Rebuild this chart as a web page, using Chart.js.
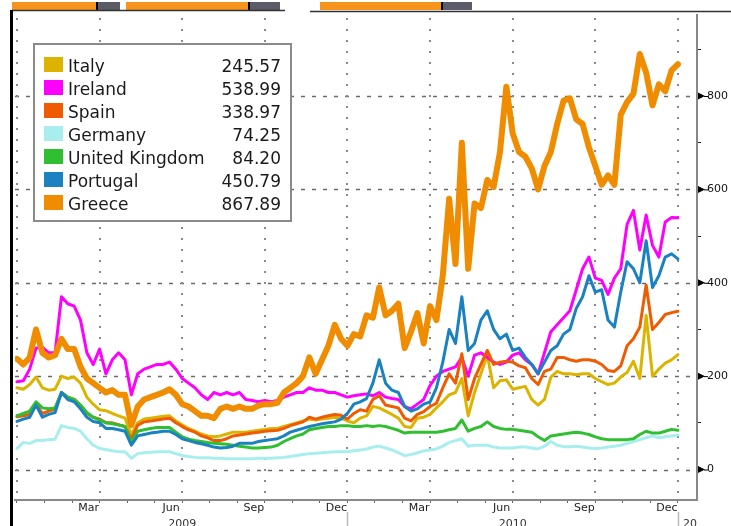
<!DOCTYPE html>
<html><head><meta charset="utf-8">
<script src="https://cdn.jsdelivr.net/npm/chart.js@4/dist/chart.umd.min.js"></script>
<style>html,body{margin:0;padding:0;background:#fff;}canvas{display:block}</style>
</head><body>
<canvas id="c" width="731" height="526"></canvas>
<script>
// ---- data (weekly readings, Jan 2009 .. Dec 2010) ----
const seriesNames = ['Italy','Ireland','Spain','Germany','United Kingdom','Portugal','Greece'];
const seriesColors = ['#dcb400','#ff00ff','#f05a00','#a8eeee','#30bf30','#1a82c0','#f08c00'];
const lastValues = ['245.57','538.99','338.97','74.25','84.20','450.79','867.89'];

const italy = [175,172,182,198,175,170,172,200,195,198,185,155,140,128,126,120,115,110,75,100,108,110,112,114,115,104,96,88,82,76,72,70,72,76,80,80,80,82,84,86,88,88,92,96,100,104,108,106,108,110,112,110,104,100,110,115,135,132,125,118,110,92,90,110,112,118,132,145,160,165,195,115,165,205,245,175,190,192,172,175,178,150,138,150,198,210,205,205,203,205,205,195,188,182,185,198,208,232,195,330,200,215,228,235,246];
const ireland = [188,190,215,260,262,250,250,370,355,350,320,250,225,258,205,235,250,235,160,205,215,220,225,225,230,215,195,185,175,160,150,165,160,165,160,165,150,148,145,148,145,148,155,160,165,165,175,170,170,165,165,160,155,158,160,162,158,165,155,152,150,135,130,140,150,180,200,210,215,220,240,200,245,250,240,230,225,230,245,250,235,225,205,250,295,310,325,340,385,430,455,410,405,375,410,430,525,555,470,545,480,455,530,540,539];
const spain = [113,115,118,140,120,125,130,165,155,150,138,120,112,108,100,100,96,92,65,95,102,104,106,108,110,100,92,85,80,72,68,62,62,66,72,74,76,78,80,82,83,84,88,94,98,102,112,108,112,115,118,116,108,120,128,125,150,158,138,135,132,110,104,118,124,135,142,175,205,185,248,150,195,225,255,225,230,232,230,222,218,195,182,210,215,240,240,235,232,235,235,232,225,212,210,222,265,280,305,395,300,315,332,336,339];
const germany = [45,58,56,62,62,64,65,94,90,88,82,66,52,45,43,40,38,38,24,34,36,37,38,38,38,34,30,28,26,25,25,24,24,23,23,23,23,23,24,24,24,25,26,28,30,32,34,35,36,37,38,38,38,40,42,44,48,50,46,42,36,30,32,36,40,42,44,50,58,62,66,50,52,52,52,48,46,46,46,48,48,46,44,50,60,52,49,49,50,48,46,45,46,48,50,52,56,60,64,68,72,68,70,72,74];
const unitedKingdom = [115,120,125,145,132,130,132,165,155,150,138,122,112,106,100,98,95,92,58,82,85,88,90,90,90,80,70,65,62,60,58,56,55,54,52,50,48,46,46,47,48,52,60,66,72,76,85,88,90,92,92,94,94,92,92,94,92,94,92,88,84,78,80,80,80,80,80,82,85,88,106,82,88,92,102,92,88,86,86,84,82,80,70,62,72,74,76,78,80,78,75,70,66,64,64,64,64,66,75,82,78,78,82,86,84];
const portugal = [103,108,112,138,112,118,122,165,150,145,130,112,103,100,88,88,85,82,52,72,75,78,80,82,82,75,66,62,58,55,52,48,46,47,50,56,56,56,60,62,64,66,72,80,84,88,92,95,98,100,102,108,120,140,145,152,185,235,185,170,165,135,125,130,140,145,175,230,300,270,370,255,270,320,340,300,280,290,255,260,240,225,205,230,255,265,290,300,345,370,415,380,385,320,305,380,445,430,400,490,390,415,455,462,451];
const greece = [237,225,240,300,250,240,245,280,258,258,220,195,185,175,165,170,160,160,95,135,150,155,160,165,172,160,140,135,125,115,115,110,130,135,130,135,130,130,137,140,140,143,165,175,185,200,240,205,235,265,310,280,265,290,285,330,325,390,330,340,355,260,295,335,270,350,320,415,580,440,700,430,570,560,620,605,680,820,720,680,670,645,600,650,680,740,790,795,750,740,690,650,610,630,610,760,787,805,890,850,780,825,810,855,868];

const monthTickLabels = ['','','','Mar','','','Jun','','','Sep','','','Dec','','','Mar','','','Jun','','','Sep','','','Dec'];
const yearLabels = ['2009','2010','2011'];
const yTickValues = [0,200,400,600,800];

// ---- derived structures ----
const seriesValues = [italy, ireland, spain, germany, unitedKingdom, portugal, greece];
const weekIndex = italy.map((_, i) => i);
const monthWeeks = monthTickLabels.map((_, m) => m * 104 / 24);
const quarterWeeks = monthWeeks.filter((_, m) => m % 3 === 0);

const datasets = seriesNames.map((name, k) => ({
  label: name,
  data: weekIndex.map(i => ({x: i, y: seriesValues[k][i]})),
  borderColor: seriesColors[k],
  backgroundColor: seriesColors[k],
  borderWidth: k === 6 ? 6 : 3,
  pointRadius: 0,
  pointHoverRadius: 0,
  tension: 0,
  fill: false,
  order: 6 - k,
  borderJoinStyle: 'round',
  borderCapStyle: 'round'
}));

const deco = {
  id: 'deco',
  beforeDatasetsDraw(chart) {
    const {ctx, chartArea: a, scales: {x, y}} = chart;
    ctx.save();
    ctx.strokeStyle = '#6a6a6a'; ctx.lineWidth = 1.6; ctx.setLineDash([4, 7]);
    yTickValues.forEach(v => {
      const py = Math.round(y.getPixelForValue(v)) + 0.5;
      ctx.beginPath(); ctx.moveTo(a.left, py); ctx.lineTo(a.right - 2, py); ctx.stroke();
    });
    ctx.strokeStyle = '#8a8a8a'; ctx.lineWidth = 2; ctx.setLineDash([2, 9]);
    quarterWeeks.forEach(w => {
      const px = Math.round(x.getPixelForValue(w));
      ctx.beginPath(); ctx.moveTo(px, a.top + 3); ctx.lineTo(px, a.bottom); ctx.stroke();
    });
    ctx.restore();
  },
  afterDatasetsDraw(chart) {
    const {ctx} = chart;
    ctx.save();
    ctx.fillStyle = '#fff';
    ctx.fillRect(33, 43, 259, 179);
    ctx.strokeStyle = '#8a8a8a'; ctx.lineWidth = 2;
    ctx.strokeRect(34, 44, 257, 177);
    ctx.font = '17px "DejaVu Sans"';
    ctx.textBaseline = 'alphabetic';
    seriesNames.forEach((name, i) => {
      const base = 72 + 23 * i;
      ctx.fillStyle = seriesColors[i];
      ctx.fillRect(44, base - 15, 19, 15);
      ctx.fillStyle = '#1a1a1a';
      ctx.textAlign = 'left';
      ctx.fillText(name, 68, base);
      ctx.textAlign = 'right';
      ctx.fillText(lastValues[i], 281, base);
    });
    ctx.restore();
  },
  afterDraw(chart) {
    const {ctx, chartArea: a, scales: {x, y}} = chart;
    ctx.save();
    // header tabs
    ctx.fillStyle = '#f7941d';
    [[12, 97], [126, 249], [320, 442]].forEach(([l, r]) => ctx.fillRect(l, 2, r - l, 8));
    ctx.fillStyle = '#5c5c68';
    [[97, 120], [249, 280], [442, 472]].forEach(([l, r]) => ctx.fillRect(l, 2, r - l, 8));
    ctx.fillStyle = '#000';
    [97, 249, 442].forEach(px => ctx.fillRect(px - 1, 2, 2, 8));
    ctx.strokeStyle = '#333'; ctx.lineWidth = 1.5;
    ctx.beginPath(); ctx.moveTo(12, 10.5); ctx.lineTo(285, 10.5); ctx.moveTo(310, 11.5); ctx.lineTo(731, 11.5); ctx.stroke();
    // left frame
    ctx.fillStyle = '#000';
    ctx.fillRect(10, 10, 3, 516);
    // right axis markers
    ctx.fillStyle = '#000'; ctx.strokeStyle = '#000'; ctx.lineWidth = 1;
    yTickValues.forEach(v => {
      const py = y.getPixelForValue(v);
      ctx.beginPath(); ctx.moveTo(698, py - 3.5); ctx.lineTo(705, py); ctx.lineTo(698, py + 3.5); ctx.closePath(); ctx.fill();
      ctx.beginPath(); ctx.moveTo(704, py + 0.5); ctx.lineTo(708, py + 0.5); ctx.stroke();
    });
    // year row
    ctx.strokeStyle = '#bbbbbb'; ctx.lineWidth = 1.5;
    [52, 104].forEach(w => {
      const px = Math.round(x.getPixelForValue(w)) + 0.5;
      ctx.beginPath(); ctx.moveTo(px, 512); ctx.lineTo(px, 526); ctx.stroke();
    });
    ctx.font = '11px "DejaVu Sans"'; ctx.fillStyle = '#333'; ctx.textBaseline = 'top';
    ctx.textAlign = 'center';
    ctx.fillText(yearLabels[0], x.getPixelForValue(26), 519);
    ctx.fillText(yearLabels[1], x.getPixelForValue(78), 519);
    ctx.beginPath(); ctx.rect(680, 505, 17, 21); ctx.clip();
    ctx.textAlign = 'left';
    ctx.fillText(yearLabels[2], x.getPixelForValue(104) + 5, 519);
    ctx.restore();
  }
};

new Chart(document.getElementById('c'), {
  type: 'line',
  data: {datasets},
  options: {
    responsive: false,
    animation: false,
    devicePixelRatio: 1,
    layout: {padding: {left: 15, top: 15, right: 0, bottom: 0}},
    plugins: {legend: {display: false}, tooltip: {enabled: false}},
    scales: {
      x: {
        type: 'linear', min: -0.31, max: 107,
        afterFit: s => { s.height = 26; },
        afterBuildTicks: s => { s.ticks = monthWeeks.map(v => ({value: v})); },
        ticks: {
          autoSkip: false, maxRotation: 0, minRotation: 0,
          callback: (v, i) => monthTickLabels[i],
          font: {family: 'DejaVu Sans', size: 11}, color: '#222',
          labelOffset: -11, padding: -1
        },
        grid: {drawOnChartArea: false, drawTicks: true, tickLength: 3, tickColor: '#666', tickWidth: 1},
        border: {display: true, color: '#888', width: 2}
      },
      y: {
        position: 'right', min: -65.3, max: 973.5,
        afterFit: s => { s.width = 34; },
        ticks: {
          stepSize: 100, includeBounds: false,
          callback: v => (yTickValues.includes(v) ? String(v) : ''),
          font: {family: 'DejaVu Sans', size: 11}, color: '#111', padding: 6
        },
        grid: {drawOnChartArea: false, drawTicks: true, tickLength: 4, tickColor: '#222'},
        border: {display: true, color: '#888', width: 2}
      }
    }
  },
  plugins: [deco]
});
</script>
</body></html>
